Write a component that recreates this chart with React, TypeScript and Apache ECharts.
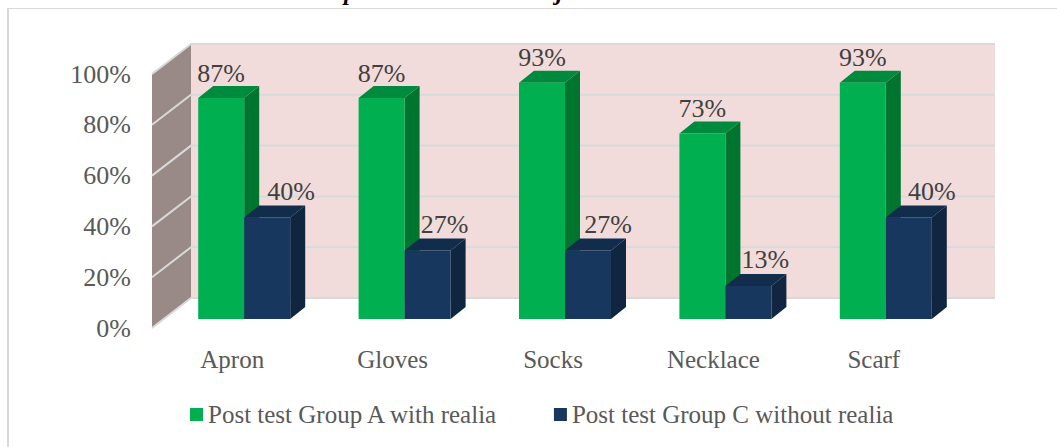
import React, { useEffect, useRef } from "react";
import * as echarts from "echarts";

// Post-test results per item, in percent.
const categories = ["Apron", "Gloves", "Socks", "Necklace", "Scarf"];
const groupA = [87, 87, 93, 73, 93];
const groupC = [40, 27, 27, 13, 40];
const percentTicks = [0, 20, 40, 60, 80, 100];
const nameA = "Post test Group A with realia";
const nameC = "Post test Group C without realia";

// The navy labels sit to the right of their columns, by a varying amount.
const groupCLabelShift = [24, 17, 20, 17, 23];

const FONT = "Liberation Serif";

// Box projection: how far the walls recede, and where the bars stand within that depth.
const WALL_WIDTH = 804;
const WALL_DX = 39;
const WALL_DY = -30;
const BAR_SHIFT_X = 12;
const BAR_SHIFT_Y = -9;
const BAR_WIDTH = 46;
const BAR_DX = 15;
const BAR_DY = -12;

const walls = (_params: any, api: any) => {
  const tick = api.value(1);
  const band = api.size([1, 0])[0];
  const left = api.coord([0, 0])[0] - band / 2;
  const right = left + WALL_WIDTH;
  const y0 = api.coord([0, 0])[1];
  const yTop = api.coord([0, 100])[1];
  const y = api.coord([0, tick])[1];
  const children: any[] = [];
  const line = { stroke: "#d9d9d9", lineWidth: 2 };
  if (tick === 0) {
    children.push(
      {
        type: "rect",
        shape: { x: left + WALL_DX, y: yTop + WALL_DY, width: right - left, height: y0 - yTop },
        style: { fill: "#f2dcdb" },
      },
      {
        type: "polygon",
        shape: {
          points: [
            [left, yTop],
            [left + WALL_DX, yTop + WALL_DY],
            [left + WALL_DX, y0 + WALL_DY],
            [left, y0],
          ],
        },
        style: { fill: "#998a87" },
      },
    );
  }
  children.push({
    type: "polyline",
    shape: {
      points: [
        [left, y],
        [left + WALL_DX, y + WALL_DY],
        [right + WALL_DX, y + WALL_DY],
      ],
    },
    style: { ...line, fill: "none" },
  });
  return { type: "group", children };
};

const box3d =
  (side: number, front: string, top: string, flank: string, labelShift: number[], labelRise: number) =>
  (params: any, api: any) => {
    const value = api.value(1);
    const center = api.coord([api.value(0), 0])[0] + BAR_SHIFT_X;
    const x0 = side < 0 ? center - BAR_WIDTH : center;
    const x1 = x0 + BAR_WIDTH;
    const yTop = api.coord([0, value])[1] + BAR_SHIFT_Y;
    const yBase = api.coord([0, 0])[1] + BAR_SHIFT_Y;
    return {
      type: "group",
      children: [
        {
          type: "polygon",
          shape: { points: [[x1, yTop], [x1 + BAR_DX, yTop + BAR_DY], [x1 + BAR_DX, yBase + BAR_DY], [x1, yBase]] },
          style: { fill: flank },
        },
        {
          type: "polygon",
          shape: { points: [[x0, yTop], [x0 + BAR_DX, yTop + BAR_DY], [x1 + BAR_DX, yTop + BAR_DY], [x1, yTop]] },
          style: { fill: top },
        },
        { type: "rect", shape: { x: x0, y: yTop, width: BAR_WIDTH, height: yBase - yTop }, style: { fill: front } },
        {
          type: "text",
          x: (x0 + x1) / 2 + labelShift[params.dataIndex],
          y: yTop - labelRise,
          style: {
            text: `${value}%`,
            fill: "#404040",
            font: `26px "${FONT}"`,
            align: "center",
            verticalAlign: "middle",
          },
        },
      ],
    };
  };

const indexed = (values: number[]) => values.map((v, i) => [i, v]);

export default function App() {
  const ref = useRef<HTMLDivElement>(null);
  useEffect(() => {
    document.body.style.margin = "0";
    const chart = echarts.init(ref.current!, undefined, { renderer: "svg" });
    chart.setOption({
      animation: false,
      backgroundColor: "#ffffff",
      grid: { left: 152, top: 74, width: 802, height: 254 },
      xAxis: {
        type: "category",
        data: categories,
        axisLine: { show: false },
        axisTick: { show: false },
        axisLabel: { color: "#595959", fontFamily: FONT, fontSize: 25, margin: 19 },
      },
      yAxis: {
        type: "value",
        min: 0,
        max: 100,
        interval: 20,
        axisLine: { show: false },
        axisTick: { show: false },
        splitLine: { show: false },
        axisLabel: {
          color: "#595959",
          fontFamily: FONT,
          fontSize: 26,
          margin: 21,
          padding: [2, 0, 0, 0],
          formatter: "{value}%",
        },
      },
      legend: {
        left: 185,
        top: 397,
        icon: "rect",
        itemWidth: 13,
        itemHeight: 13,
        itemGap: 55,
        selectedMode: false,
        data: [nameA, nameC],
        textStyle: { color: "#595959", fontFamily: FONT, fontSize: 25, padding: [0, 0, 0, 0] },
      },
      graphic: [
        { type: "rect", shape: { x: 7, y: 8, width: 2, height: 439 }, style: { fill: "#d9d9d9" }, silent: true },
        { type: "rect", shape: { x: 7, y: 8, width: 1050, height: 1 }, style: { fill: "#d9d9d9" }, silent: true },
        {
          type: "text",
          x: 344,
          y: -8,
          style: { text: "p", fill: "#000000", font: `italic bold 24px "${FONT}"`, verticalAlign: "middle" },
        },
        {
          type: "text",
          x: 556,
          y: -8,
          style: { text: "j", fill: "#000000", font: `italic bold 24px "${FONT}"`, verticalAlign: "middle" },
        },
      ],
      series: [
        {
          type: "custom",
          silent: true,
          clip: false,
          z: 1,
          data: percentTicks.map((t) => [0, t]),
          renderItem: walls,
        },
        {
          type: "custom",
          name: nameA,
          clip: false,
          z: 2,
          itemStyle: { color: "#00b050" },
          data: indexed(groupA),
          renderItem: box3d(-1, "#00b050", "#008a3e", "#00752f", [0, 0, 0, 0, 0], 25),
        },
        {
          type: "custom",
          name: nameC,
          clip: false,
          z: 3,
          itemStyle: { color: "#17375e" },
          data: indexed(groupC),
          renderItem: box3d(1, "#17375e", "#122c4c", "#0f2540", groupCLabelShift, 26),
        },
      ],
    });
    return () => chart.dispose();
  }, []);
  return <div ref={ref} style={{ position: "fixed", left: 0, top: 0, width: 1057, height: 447 }} />;
}
